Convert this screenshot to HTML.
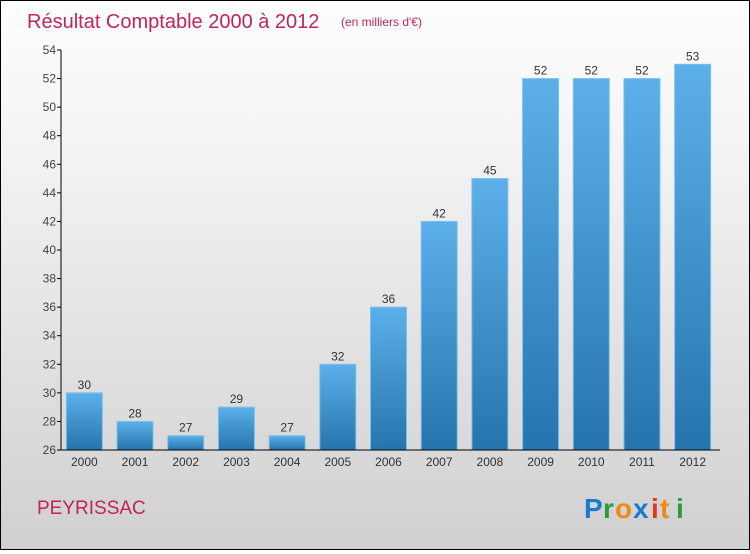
<!DOCTYPE html>
<html><head><meta charset="utf-8"><style>
html,body{margin:0;padding:0}
body{width:750px;height:550px;overflow:hidden}
#wrap{position:relative;width:748px;height:548px;border:1px solid #000;background:linear-gradient(#fefefe,#f2f2f2 30%,#d0d0d0);font-family:"Liberation Sans",sans-serif}
</style></head><body>
<div id="wrap">
<svg id="c" width="748" height="548">
<defs><linearGradient id="g" x1="0" y1="0" x2="0" y2="1"><stop offset="0" stop-color="#5cb0ea"/><stop offset="1" stop-color="#2674ad"/></linearGradient></defs>
<text x="26" y="27" font-size="20" fill="#c0245a">Résultat Comptable 2000 à 2012</text>
<text x="340" y="25" font-size="12" fill="#c0245a">(en milliers d'€)</text>
<text x="36" y="513" font-size="19" fill="#c0245a">PEYRISSAC</text>
<g font-size="28" font-weight="bold" font-family="Liberation Sans,sans-serif">
<text x="583" y="517" fill="#1a7ad0">P</text><text x="602" y="517" fill="#2a9a3a">r</text><text x="614" y="517" fill="#f08a10">o</text><text x="632" y="517" fill="#1a7ad0">x</text><text x="650" y="517" fill="#e03a1a">i</text><text x="659" y="517" fill="#f08a10">t</text><text x="675" y="517" fill="#2a9a3a">i</text>
</g>
</svg>
</div>
<script>
const years=["2000","2001","2002","2003","2004","2005","2006","2007","2008","2009","2010","2011","2012"];
const values=[30,28,27,29,27,32,36,42,45,52,52,52,53];
const yTicks=[26,28,30,32,34,36,38,40,42,44,46,48,50,52,54];
(function(){
const yMin=26,yMax=54,plotTop=49,plotBot=449,plotLeft=60,plotRight=719;
const NS="http://www.w3.org/2000/svg";
const svg=document.getElementById('c');
function y(v){return plotBot-(v-yMin)/(yMax-yMin)*(plotBot-plotTop);}
const step=(plotRight-plotLeft)/years.length;
function x(i){return plotLeft+step*(i+0.5)-2;}
function mk(t,a){const e=document.createElementNS(NS,t);for(const k in a)e.setAttribute(k,a[k]);svg.appendChild(e);return e;}
years.forEach((yr,i)=>{
 const r=mk('rect',{x:x(i)-18,y:y(values[i]),width:36,height:plotBot-y(values[i]),fill:'url(#g)',stroke:'#7cc0ee','stroke-width':1});
 
 
 const t=mk('text',{x:x(i),y:y(values[i])-4,'font-size':12,'text-anchor':'middle',fill:'#333'});
 t.textContent=values[i];
 
 
 const xl=mk('text',{x:x(i),y:plotBot+16,'font-size':12,'text-anchor':'middle',fill:'#333'});
 xl.textContent=yr;
 
 
});
yTicks.forEach(v=>{
 const tk=mk('line',{x1:plotLeft-4,x2:plotLeft,y1:y(v),y2:y(v),stroke:'#000'});
 
 
 const t=mk('text',{x:plotLeft-5,y:y(v)+4,'font-size':12,'text-anchor':'end',fill:'#444'});
 t.textContent=v;
 
 
});
const ya=mk('line',{x1:plotLeft,x2:plotLeft,y1:plotTop,y2:plotBot,stroke:'#000'});


const xa=mk('line',{x1:plotLeft,x2:plotRight,y1:plotBot,y2:plotBot,stroke:'#000'});


})();
</script>
</body></html>
